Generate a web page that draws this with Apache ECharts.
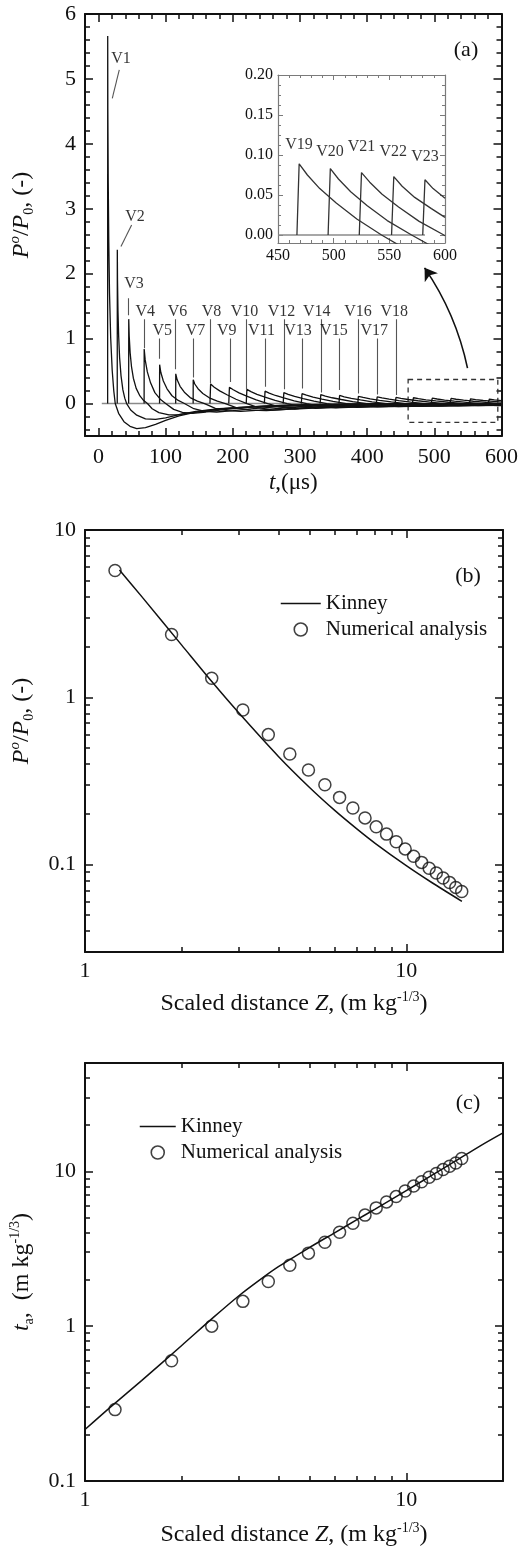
<!DOCTYPE html>
<html><head><meta charset="utf-8">
<script src="https://cdn.jsdelivr.net/npm/echarts@6/dist/echarts.min.js"></script>
<style>html,body{margin:0;padding:0;background:#fff}#c{width:521px;height:1550px}</style>
</head><body><div id="c"></div>
<script>
// ---------------- data ----------------
// panel (b)/(c): scaled distance of the gauges V1..V23
const scaledDistance = [1.24,1.86,2.48,3.10,3.72,4.34,4.96,5.58,6.20,6.82,7.44,8.06,8.68,9.30,9.92,10.54,11.16,11.78,12.40,13.02,13.64,14.26,14.88];
const peakOverpressure = [5.73,2.37,1.30,0.84,0.598,0.458,0.367,0.30,0.252,0.218,0.190,0.168,0.152,0.137,0.124,0.112,0.103,0.095,0.089,0.083,0.078,0.073,0.069];
const arrivalTimeScaled = [0.289,0.597,1.00,1.445,1.94,2.47,2.96,3.48,4.04,4.61,5.21,5.80,6.34,6.86,7.45,8.02,8.55,9.15,9.66,10.25,10.76,11.3,12.1];
const kinneyPZ = [1.28,1.5,2,2.5,3,4,5,6,7,8,10,12,14.9];
const kinneyP  = [5.76,4.01,2.05,1.22,0.813,0.443,0.289,0.210,0.164,0.134,0.0985,0.0781,0.0603];
const kinneyTZ = [1.0,1.2,1.5,2.0,2.5,3.0,3.5,4,5,6,7,8,10,12,14,17,20];
const kinneyT  = [0.215,0.30,0.445,0.75,1.13,1.56,1.99,2.42,3.22,4.02,4.85,5.7,7.5,9.4,11.4,14.6,17.7];

// panel (a): overpressure histories [t (us), P/P0]
const V1 = [[13.7,0],[13.8,5.66],[14.0,4.53],[14.6,3.40],[15.4,2.49],[16.5,1.70],[18.2,1.02],[20.5,0.51],[22.8,0.20],[25,0],[30,-0.15],[38,-0.28],[47,-0.35],[57,-0.385],[70,-0.37],[85,-0.32],[100,-0.26],[120,-0.19],[150,-0.12],[190,-0.075],[250,-0.045],[330,-0.025],[450,-0.01],[600,0]];
const V2 = [[28,0],[28.1,2.37],[28.4,1.90],[29.1,1.42],[30.1,1.04],[31.5,0.71],[33.6,0.43],[36.4,0.21],[39.2,0.083],[42,0],[48,-0.10],[57,-0.18],[70,-0.235],[85,-0.245],[100,-0.22],[120,-0.17],[145,-0.12],[180,-0.08],[240,-0.045],[320,-0.02],[450,-0.008],[600,0]];
const V3 = [[45,0],[45.1,1.30],[45.8,1.04],[47.2,0.78],[49.2,0.57],[52,0.39],[56.2,0.234],[61.8,0.117],[67.4,0.046],[73,0],[80,-0.08],[90,-0.14],[105,-0.175],[120,-0.17],[140,-0.14],[170,-0.10],[210,-0.06],[270,-0.03],[370,-0.012],[500,0]];
const V4 = [[68,0],[68.1,0.84],[69.6,0.672],[72.8,0.487],[77.6,0.319],[84,0.168],[92,0.067],[100,0],[112,-0.09],[125,-0.135],[140,-0.15],[160,-0.13],[190,-0.09],[230,-0.05],[290,-0.02],[400,-0.005],[500,0]];
const V5 = [[91,0],[91.1,0.598],[92.9,0.478],[96.6,0.347],[102.1,0.227],[109.5,0.120],[118.8,0.048],[128,0],[142,-0.08],[158,-0.12],[176,-0.13],[200,-0.11],[235,-0.075],[280,-0.04],[350,-0.015],[460,0]];
const V6 = [[115,0],[115.1,0.458],[117.2,0.366],[121.5,0.266],[127.9,0.174],[136.5,0.092],[147.3,0.037],[158,0],[174,-0.075],[192,-0.11],[212,-0.12],[240,-0.10],[280,-0.065],[330,-0.035],[400,-0.012],[520,0]];
const V7 = [[141,0],[141.1,0.367],[143.4,0.301],[148.2,0.228],[155.4,0.154],[165,0.088],[177,0.037],[189,0],[207,-0.07],[227,-0.10],[250,-0.11],[280,-0.09],[320,-0.06],[370,-0.03],[440,-0.01],[560,0]];
const V8 = [[166,0],[167,0.30],[172.4,0.252],[180.5,0.195],[191.3,0.135],[204.8,0.066],[221,0],[237,-0.06],[259,-0.10],[291,-0.08],[340,-0.04],[410,0]];
const V9 = [[194,0],[195,0.252],[200.7,0.212],[209.3,0.164],[220.7,0.113],[234.9,0.055],[252,0],[269,-0.051],[292,-0.085],[326,-0.068],[377,-0.034],[452,0]];
const V10 = [[220,0],[221,0.218],[227,0.183],[236,0.142],[248,0.098],[263,0.048],[281,0],[299,-0.045],[323,-0.075],[359,-0.06],[413,-0.03],[491,0]];
const V11 = [[247,0],[248,0.190],[254.2,0.160],[263.5,0.124],[275.9,0.086],[291.4,0.042],[310,0],[328.6,-0.039],[353.4,-0.065],[390.6,-0.052],[446.4,-0.026],[527,0]];
const V12 = [[275,0],[276,0.168],[282.4,0.141],[292,0.109],[304.8,0.076],[320.8,0.037],[340,0],[359.2,-0.035],[384.8,-0.058],[423.2,-0.046],[480.8,-0.023],[564,0]];
const V13 = [[302,0],[303,0.152],[309.6,0.128],[319.5,0.099],[332.7,0.068],[349.2,0.033],[369,0],[388.8,-0.031],[415.2,-0.052],[454.8,-0.042],[514.2,-0.021],[600,0]];
const V14 = [[330,0],[331,0.137],[337.8,0.115],[348,0.089],[361.6,0.062],[378.6,0.030],[399,0],[419.4,-0.028],[446.6,-0.047],[487.4,-0.038],[548.6,-0.019],[600,-0.009]];
const V15 = [[358,0],[359,0.124],[365.9,0.104],[376.3,0.081],[390.1,0.056],[407.3,0.027],[428,0],[448.7,-0.025],[476.3,-0.042],[517.7,-0.034],[579.8,-0.017],[600,-0.012]];
const V16 = [[386,0],[387,0.112],[394,0.094],[404.5,0.073],[418.5,0.050],[436,0.025],[457,0],[478,-0.023],[506,-0.038],[548,-0.030],[600,-0.018]];
const V17 = [[413.5,0],[415,0.103],[422.1,0.087],[432.8,0.067],[447,0.046],[464.7,0.023],[486,0],[507.3,-0.021],[535.7,-0.035],[578.3,-0.028],[600,-0.025]];
const V18 = [[441.5,0],[443,0.095],[450.2,0.080],[461,0.062],[475.4,0.043],[493.4,0.021],[515,0],[536.6,-0.019],[565.4,-0.032],[600,-0.027]];
const V19 = [[467,0],[469,0.089],[476.4,0.075],[487.5,0.058],[502.3,0.040],[520.8,0.020],[543,0],[565.2,-0.018],[594.8,-0.030],[600,-0.030]];
const V20 = [[495,0],[497,0.083],[504.3,0.070],[515.3,0.054],[529.9,0.037],[548.1,0.018],[570,0],[591.9,-0.017],[600,-0.021]];
const V21 = [[523,0],[525,0.078],[532.4,0.066],[543.5,0.051],[558.3,0.035],[576.8,0.017],[599,0],[600,-0.001]];
const V22 = [[552,0],[554,0.073],[561.5,0.061],[572.8,0.047],[587.8,0.033],[600,0.022]];
const V23 = [[580,0],[582,0.069],[589.3,0.058],[600,0.046]];
const pulses = [V1,V2,V3,V4,V5,V6,V7,V8,V9,V10,V11,V12,V13,V14,V15,V16,V17,V18,V19,V20,V21,V22,V23];
const insetPulses = [V19,V20,V21,V22,V23];
const baselineA = [[5,0],[600,0]];
const baselineInset = [[450,0],[582,0]];

// gauge labels of panel (a)
const labelNames = ['V1','V2','V3','V4','V5','V6','V7','V8','V9','V10','V11','V12','V13','V14','V15','V16','V17','V18'];
const labelT = [33.5,54.3,52.9,69.7,94.9,117.8,144.6,168.4,191.1,217.4,242.7,272.4,297,325,350.5,386.4,410.7,440.4];
const labelP = [5.31,2.87,1.85,1.42,1.12,1.42,1.12,1.42,1.12,1.42,1.12,1.42,1.12,1.42,1.12,1.42,1.12,1.42];
const leaderT = [45,68,91,115,141,167,195.6,220.4,247.6,276,303,331,359,387,414.6,443.9];
const leaderTop = [1.62,1.30,1.00,1.30,1.00,1.30,1.00,1.30,1.00,1.30,1.00,1.30,1.00,1.30,1.00,1.30];
const leaderBottom = [1.36,0.85,0.69,0.53,0.40,0.31,0.33,0.22,0.26,0.22,0.23,0.17,0.21,0.155,0.14,0.13];
const slantLeaders = [[[31,5.14],[20.6,4.7]],[[49.4,2.75],[33.5,2.42]]];
const insetNames = ['V19','V20','V21','V22','V23'];
const insetT = [468.9,496.7,525,553.5,582];
const insetP = [0.113,0.104,0.110,0.104,0.098];
const zoomBox = [[461,0.37],[594.5,-0.29]];
const arrowPath = [[549.4,0.545],[485.5,2.09]];

// tick values
const aXMajor = [0,100,200,300,400,500,600];
const aYMajor = [0,1,2,3,4,5,6];
const insetXMajor = [450,500,550,600];
const insetYMajor = [0,0.05,0.10,0.15,0.20];
const logXMajor = [1,10];
const logXMinor = [2,3,4,5,6,7,8,9];
const bYMajor = [0.1,1,10];
const bYMinor = [0.04,0.05,0.06,0.07,0.08,0.09,0.2,0.3,0.4,0.5,0.6,0.7,0.8,0.9,2,3,4,5,6,7,8,9];
const cYMajor = [0.1,1,10];
const cYMinor = [0.2,0.3,0.4,0.5,0.6,0.7,0.8,0.9,2,3,4,5,6,7,8,9,20,30,40];

function stepTicks(a, b, step, skip) {
  const out = [];
  for (let k = Math.round(a/step); k*step <= b + 1e-9; k++) {
    const v = Math.round(k*step*10000)/10000;
    if (!skip(v)) out.push(v);
  }
  return out;
}
const aXMinor = stepTicks(20, 580, 20, v => v % 100 === 0);
const aYMinor = stepTicks(-0.4, 5.8, 0.2, v => Math.abs(v - Math.round(v)) < 1e-6);
const insetXMinor = stepTicks(460, 590, 10, v => v % 50 === 0);
const insetYMinor = stepTicks(0.0125, 0.1875, 0.0125, v => Math.abs(v*20 - Math.round(v*20)) < 1e-6);

// ---------------- chart ----------------
const FONT = '"Liberation Serif", "DejaVu Serif", serif';
const INK = '#111111';

function nameStyle(size, shift) {
  const s = Math.round(size*0.6);
  return {
    fontFamily: FONT, fontSize: size, color: INK, lineHeight: size + 4,
    padding: shift ? [0, 0, 0, shift] : 0,
    rich: {
      n: {fontFamily: FONT, fontSize: size, lineHeight: size + 4, color: INK},
      i: {fontFamily: FONT, fontSize: size, fontStyle: 'italic', lineHeight: size + 4, color: INK},
      sup: {fontFamily: FONT, fontSize: s, lineHeight: s + 2, verticalAlign: 'top', color: INK},
      supi: {fontFamily: FONT, fontSize: s + 1, fontStyle: 'italic', lineHeight: s + 2, verticalAlign: 'top', color: INK},
      sub: {fontFamily: FONT, fontSize: s, lineHeight: s + 2, verticalAlign: 'bottom', color: INK}
    }
  };
}
const fmtNum = v => String(parseFloat(Number(v).toPrecision(6)));

const xAxes = [], yAxes = [];
function addAxisSet(list, c) {
  const common = {gridIndex: c.grid, type: c.type, min: c.min, max: c.max, splitLine: {show: false}, silent: true};
  if (c.type === 'log') common.logBase = 10;
  const tickLine = {color: c.color, width: c.tickWidth};
  const mainIdx = list.length;
  c.sides.forEach((side, si) => {
    list.push(Object.assign({}, common, {
      position: side,
      axisLine: {show: true, onZero: false, lineStyle: {color: c.color, width: c.width}},
      axisTick: {show: true, inside: true, length: c.majLen, customValues: c.major, lineStyle: tickLine},
      axisLabel: si === 0 ? {show: true, customValues: c.major, formatter: c.fmt, margin: c.margin, color: INK, fontFamily: FONT, fontSize: c.fontSize} : {show: false},
      name: si === 0 ? (c.name || '') : '',
      nameLocation: 'middle', nameGap: c.nameGap || 0, nameRotate: c.nameRotate,
      nameTextStyle: c.nameStyle
    }));
    list.push(Object.assign({}, common, {
      position: side,
      axisLine: {show: false, onZero: false},
      axisTick: {show: true, inside: true, length: c.minLen, customValues: c.minor, lineStyle: tickLine},
      axisLabel: {show: false}
    }));
  });
  return mainIdx;
}

const grid = [
  {left: 85, top: 14, width: 417, height: 422},
  {left: 278, top: 75, width: 167, height: 168},
  {left: 85, top: 530, width: 418, height: 422},
  {left: 85, top: 1063, width: 418, height: 421}
];

const axA_x = addAxisSet(xAxes, {grid: 0, type: 'value', min: -20, max: 600, sides: ['bottom','top'], major: aXMajor, minor: aXMinor,
  fmt: fmtNum, fontSize: 22, margin: 10, color: INK, width: 2, tickWidth: 1.5, majLen: 8, minLen: 5,
  name: '{i|t}{n|,(μs)}', nameGap: 33, nameStyle: nameStyle(23)});
const axA_y = addAxisSet(yAxes, {grid: 0, type: 'value', min: -0.5, max: 6, sides: ['left','right'], major: aYMajor, minor: aYMinor,
  fmt: fmtNum, fontSize: 22, margin: 9, color: INK, width: 2, tickWidth: 1.5, majLen: 8, minLen: 5,
  name: '{i|P}{supi|o}{n|/}{i|P}{sub|0}{n|, (-)}', nameGap: 49, nameRotate: 90, nameStyle: nameStyle(24, 20)});
const axI_x = addAxisSet(xAxes, {grid: 1, type: 'value', min: 450, max: 600, sides: ['bottom','top'], major: insetXMajor, minor: insetXMinor,
  fmt: fmtNum, fontSize: 16, margin: 5, color: '#7a7a7a', width: 1.2, tickWidth: 1, majLen: 5, minLen: 3});
const axI_y = addAxisSet(yAxes, {grid: 1, type: 'value', min: -0.01, max: 0.20, sides: ['left','right'], major: insetYMajor, minor: insetYMinor,
  fmt: v => Number(v).toFixed(2), fontSize: 16, margin: 5, color: '#7a7a7a', width: 1.2, tickWidth: 1, majLen: 5, minLen: 3});
const axB_x = addAxisSet(xAxes, {grid: 2, type: 'log', min: 1, max: 20, sides: ['bottom','top'], major: logXMajor, minor: logXMinor,
  fmt: fmtNum, fontSize: 22, margin: 8, color: INK, width: 2, tickWidth: 1.5, majLen: 8, minLen: 5,
  name: '{n|Scaled distance }{i|Z}{n|, (m kg}{sup|-1/3}{n|)}', nameGap: 38, nameStyle: nameStyle(24)});
const axB_y = addAxisSet(yAxes, {grid: 2, type: 'log', min: 0.03, max: 10, sides: ['left','right'], major: bYMajor, minor: bYMinor,
  fmt: fmtNum, fontSize: 22, margin: 9, color: INK, width: 2, tickWidth: 1.5, majLen: 8, minLen: 5,
  name: '{i|P}{supi|o}{n|/}{i|P}{sub|0}{n|, (-)}', nameGap: 49, nameRotate: 90, nameStyle: nameStyle(24, 40)});
const axC_x = addAxisSet(xAxes, {grid: 3, type: 'log', min: 1, max: 20, sides: ['bottom','top'], major: logXMajor, minor: logXMinor,
  fmt: fmtNum, fontSize: 22, margin: 8, color: INK, width: 2, tickWidth: 1.5, majLen: 8, minLen: 5,
  name: '{n|Scaled distance }{i|Z}{n|, (m kg}{sup|-1/3}{n|)}', nameGap: 40, nameStyle: nameStyle(24)});
const axC_y = addAxisSet(yAxes, {grid: 3, type: 'log', min: 0.1, max: 50, sides: ['left','right'], major: cYMajor, minor: cYMinor,
  fmt: fmtNum, fontSize: 22, margin: 9, color: INK, width: 2, tickWidth: 1.5, majLen: 8, minLen: 5,
  name: '{i|t}{sub|a}{n|,  (m kg}{sup|-1/3}{n|)}', nameGap: 49, nameRotate: 90, nameStyle: nameStyle(24)});

const zip = (a, b) => a.map((v, i) => [v, b[i]]);
const series = [];

// panel (a)
series.push({type: 'line', xAxisIndex: axA_x, yAxisIndex: axA_y, data: baselineA, showSymbol: false, symbol: 'none', silent: true, z: 1,
  color: '#8a8a8a', lineStyle: {color: '#8a8a8a', width: 1.5},
  markArea: {silent: true, itemStyle: {color: 'rgba(0,0,0,0)', borderColor: '#333', borderWidth: 1.3, borderType: [5, 4]},
    data: [[{coord: zoomBox[0]}, {coord: zoomBox[1]}]]}});
pulses.forEach((p, i) => series.push({type: 'line', name: 'V' + (i+1), xAxisIndex: axA_x, yAxisIndex: axA_y, data: p,
  symbol: 'none', silent: true, z: 2, color: INK, lineStyle: {color: INK, width: 1.3}}));
series.push({type: 'lines', coordinateSystem: 'cartesian2d', xAxisIndex: axA_x, yAxisIndex: axA_y, silent: true, z: 3,
  lineStyle: {color: '#555555', width: 1.1, opacity: 1},
  data: leaderT.map((t, i) => ({coords: [[t, leaderTop[i]], [t, leaderBottom[i]]]})).concat(slantLeaders.map(c => ({coords: c})))});
series.push({type: 'scatter', xAxisIndex: axA_x, yAxisIndex: axA_y, symbolSize: 0, silent: true, z: 4,
  data: labelNames.map((n, i) => ({name: n, value: [labelT[i], labelP[i]]})),
  label: {show: true, position: 'inside', formatter: '{b}', fontFamily: FONT, fontSize: 16, color: '#000'}});
series.push({type: 'lines', coordinateSystem: 'cartesian2d', xAxisIndex: axA_x, yAxisIndex: axA_y, silent: true, z: 4,
  symbol: ['none', 'arrow'], symbolSize: [1, 12],
  lineStyle: {color: INK, width: 1.6, curveness: -0.1, opacity: 1},
  data: [{coords: arrowPath}]});

// inset
series.push({type: 'line', xAxisIndex: axI_x, yAxisIndex: axI_y, data: baselineInset, symbol: 'none', silent: true, z: 1,
  color: '#8a8a8a', lineStyle: {color: '#8a8a8a', width: 1.5}});
insetPulses.forEach((p, i) => series.push({type: 'line', name: insetNames[i], xAxisIndex: axI_x, yAxisIndex: axI_y, data: p,
  symbol: 'none', silent: true, z: 2, color: INK, lineStyle: {color: '#333', width: 1.3}}));
series.push({type: 'scatter', xAxisIndex: axI_x, yAxisIndex: axI_y, symbolSize: 0, silent: true, z: 4,
  data: insetNames.map((n, i) => ({name: n, value: [insetT[i], insetP[i]]})),
  label: {show: true, position: 'inside', formatter: '{b}', fontFamily: FONT, fontSize: 16, color: '#000'}});

// panel (b)
series.push({type: 'line', name: 'Kinney', xAxisIndex: axB_x, yAxisIndex: axB_y, data: zip(kinneyPZ, kinneyP),
  smooth: 0.3, symbol: 'none', silent: true, color: INK, lineStyle: {color: INK, width: 1.5}});
series.push({type: 'scatter', name: 'Numerical analysis', xAxisIndex: axB_x, yAxisIndex: axB_y, data: zip(scaledDistance, peakOverpressure),
  symbol: 'circle', symbolSize: 12, silent: true, itemStyle: {color: 'rgba(0,0,0,0)', borderColor: INK, borderWidth: 1.5}});
// panel (c)
series.push({type: 'line', name: 'Kinney', xAxisIndex: axC_x, yAxisIndex: axC_y, data: zip(kinneyTZ, kinneyT),
  smooth: 0.3, symbol: 'none', silent: true, color: INK, lineStyle: {color: INK, width: 1.5}});
series.push({type: 'scatter', name: 'Numerical analysis', xAxisIndex: axC_x, yAxisIndex: axC_y, data: zip(scaledDistance, arrivalTimeScaled),
  symbol: 'circle', symbolSize: 12, silent: true, itemStyle: {color: 'rgba(0,0,0,0)', borderColor: INK, borderWidth: 1.5}});

function legendAt(left, top, w) {
  return {orient: 'vertical', left: left, top: top, padding: 0, itemWidth: w, itemHeight: 13, itemGap: 5, selectedMode: false,
    data: [
      {name: 'Kinney', itemStyle: {opacity: 0, color: 'rgba(0,0,0,0)', borderWidth: 0}, lineStyle: {color: INK, width: 1.5, opacity: 1}},
      {name: 'Numerical analysis', icon: 'circle', itemStyle: {color: 'rgba(0,0,0,0)', borderColor: INK, borderWidth: 1.6}}
    ],
    textStyle: {fontFamily: FONT, fontSize: 21, color: INK}};
}

function panelLetter(text, x, y) {
  return {type: 'text', x: x, y: y, silent: true,
    style: {text: text, font: '22px "Liberation Serif"', fill: INK, align: 'center', verticalAlign: 'middle', textAlign: 'center', textVerticalAlign: 'middle'}};
}

const chart = echarts.init(document.getElementById('c'), null, {renderer: 'canvas', width: 521, height: 1550});
chart.setOption({
  animation: false,
  backgroundColor: '#ffffff',
  grid: grid,
  xAxis: xAxes,
  yAxis: yAxes,
  legend: [legendAt(280, 593, 40), legendAt(139, 1116, 36)],
  graphic: [panelLetter('(a)', 466, 50), panelLetter('(b)', 468, 576), panelLetter('(c)', 468, 1103)],
  series: series
});
</script>
</body></html>
